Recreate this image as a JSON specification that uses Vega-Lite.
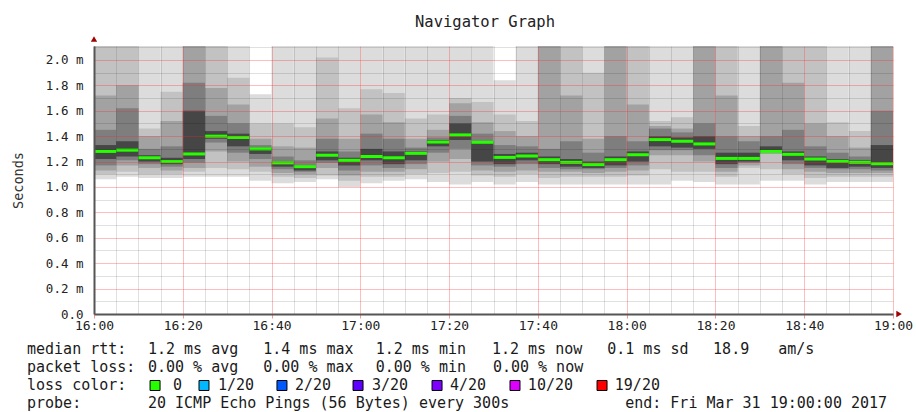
{
  "$schema": "https://vega.github.io/schema/vega-lite/v6.json",
  "width": 799,
  "height": 268,
  "padding": {"left": 11, "top": 14, "right": 0, "bottom": 6},
  "background": "white",
  "title": {"text": "Navigator Graph", "anchor": "start", "frame": "group", "font": "DejaVu Sans Mono", "fontSize": 15.5, "fontWeight": "normal", "color": "#222222", "baseline": "bottom", "offset": 1, "dx": 321, "dy": 10},
  "config": {"view": {"stroke": null}, "axis": {"labelFont": "DejaVu Sans Mono", "titleFont": "DejaVu Sans Mono"}},
  "resolve": {"scale": {"x": "independent", "y": "independent", "color": "independent"}, "axis": {"x": "independent", "y": "independent"}},
  "data": {"values": [
    {"t":"2017-03-31T16:00","t2":"2017-03-31T16:05","med":1.28,"l1":1.06,"h1":2.3,"l2":1.10,"h2":2.3,"l3":1.13,"h3":1.72,"l4":1.17,"h4":1.45,"l5":1.22,"h5":1.33},
    {"t":"2017-03-31T16:05","t2":"2017-03-31T16:10","med":1.29,"l1":1.08,"h1":2.3,"l2":1.12,"h2":2.3,"l3":1.17,"h3":1.80,"l4":1.21,"h4":1.62,"l5":1.24,"h5":1.36},
    {"t":"2017-03-31T16:10","t2":"2017-03-31T16:15","med":1.23,"l1":1.07,"h1":2.3,"l2":1.10,"h2":1.46,"l3":1.15,"h3":1.40,"l4":1.18,"h4":1.30,"l5":1.20,"h5":1.25},
    {"t":"2017-03-31T16:15","t2":"2017-03-31T16:20","med":1.20,"l1":1.07,"h1":2.3,"l2":1.10,"h2":1.75,"l3":1.13,"h3":1.52,"l4":1.16,"h4":1.32,"l5":1.18,"h5":1.23},
    {"t":"2017-03-31T16:20","t2":"2017-03-31T16:25","med":1.26,"l1":1.08,"h1":2.3,"l2":1.12,"h2":2.3,"l3":1.15,"h3":2.3,"l4":1.19,"h4":1.82,"l5":1.22,"h5":1.60},
    {"t":"2017-03-31T16:25","t2":"2017-03-31T16:30","med":1.40,"l1":1.08,"h1":2.3,"l2":1.15,"h2":2.3,"l3":1.28,"h3":1.78,"l4":1.35,"h4":1.56,"l5":1.38,"h5":1.44},
    {"t":"2017-03-31T16:30","t2":"2017-03-31T16:35","med":1.39,"l1":1.08,"h1":2.3,"l2":1.14,"h2":1.86,"l3":1.20,"h3":1.65,"l4":1.27,"h4":1.50,"l5":1.32,"h5":1.42},
    {"t":"2017-03-31T16:35","t2":"2017-03-31T16:40","med":1.30,"l1":1.05,"h1":1.73,"l2":1.12,"h2":1.50,"l3":1.16,"h3":1.38,"l4":1.22,"h4":1.33,"l5":1.26,"h5":1.31},
    {"t":"2017-03-31T16:40","t2":"2017-03-31T16:45","med":1.19,"l1":1.03,"h1":2.3,"l2":1.08,"h2":1.50,"l3":1.11,"h3":1.32,"l4":1.14,"h4":1.24,"l5":1.16,"h5":1.20},
    {"t":"2017-03-31T16:45","t2":"2017-03-31T16:50","med":1.16,"l1":1.04,"h1":2.3,"l2":1.07,"h2":1.47,"l3":1.10,"h3":1.31,"l4":1.12,"h4":1.21,"l5":1.13,"h5":1.17},
    {"t":"2017-03-31T16:50","t2":"2017-03-31T16:55","med":1.25,"l1":1.06,"h1":2.3,"l2":1.09,"h2":2.02,"l3":1.15,"h3":1.54,"l4":1.19,"h4":1.38,"l5":1.21,"h5":1.28},
    {"t":"2017-03-31T16:55","t2":"2017-03-31T17:00","med":1.21,"l1":1.00,"h1":2.3,"l2":1.05,"h2":1.62,"l3":1.09,"h3":1.38,"l4":1.13,"h4":1.28,"l5":1.17,"h5":1.23},
    {"t":"2017-03-31T17:00","t2":"2017-03-31T17:05","med":1.24,"l1":1.03,"h1":2.3,"l2":1.08,"h2":1.77,"l3":1.12,"h3":1.57,"l4":1.17,"h4":1.42,"l5":1.21,"h5":1.30},
    {"t":"2017-03-31T17:05","t2":"2017-03-31T17:10","med":1.23,"l1":1.05,"h1":2.3,"l2":1.08,"h2":1.74,"l3":1.12,"h3":1.51,"l4":1.15,"h4":1.38,"l5":1.18,"h5":1.28},
    {"t":"2017-03-31T17:10","t2":"2017-03-31T17:15","med":1.265,"l1":1.06,"h1":2.3,"l2":1.10,"h2":1.54,"l3":1.14,"h3":1.38,"l4":1.18,"h4":1.31,"l5":1.21,"h5":1.28},
    {"t":"2017-03-31T17:15","t2":"2017-03-31T17:20","med":1.354,"l1":1.04,"h1":2.3,"l2":1.11,"h2":1.57,"l3":1.20,"h3":1.45,"l4":1.27,"h4":1.39,"l5":1.32,"h5":1.37},
    {"t":"2017-03-31T17:20","t2":"2017-03-31T17:25","med":1.41,"l1":1.02,"h1":2.3,"l2":1.12,"h2":1.70,"l3":1.22,"h3":1.66,"l4":1.30,"h4":1.56,"l5":1.37,"h5":1.50},
    {"t":"2017-03-31T17:25","t2":"2017-03-31T17:30","med":1.352,"l1":1.04,"h1":2.3,"l2":1.09,"h2":1.67,"l3":1.13,"h3":1.51,"l4":1.17,"h4":1.42,"l5":1.20,"h5":1.36},
    {"t":"2017-03-31T17:30","t2":"2017-03-31T17:35","med":1.233,"l1":1.02,"h1":1.84,"l2":1.08,"h2":1.57,"l3":1.12,"h3":1.44,"l4":1.16,"h4":1.33,"l5":1.18,"h5":1.26},
    {"t":"2017-03-31T17:35","t2":"2017-03-31T17:40","med":1.244,"l1":1.04,"h1":2.3,"l2":1.10,"h2":1.52,"l3":1.13,"h3":1.40,"l4":1.18,"h4":1.32,"l5":1.21,"h5":1.27},
    {"t":"2017-03-31T17:40","t2":"2017-03-31T17:45","med":1.215,"l1":1.02,"h1":2.3,"l2":1.07,"h2":2.3,"l3":1.12,"h3":2.3,"l4":1.15,"h4":1.30,"l5":1.18,"h5":1.24},
    {"t":"2017-03-31T17:45","t2":"2017-03-31T17:50","med":1.194,"l1":1.02,"h1":2.3,"l2":1.08,"h2":2.3,"l3":1.12,"h3":1.72,"l4":1.14,"h4":1.36,"l5":1.16,"h5":1.22},
    {"t":"2017-03-31T17:50","t2":"2017-03-31T17:55","med":1.176,"l1":1.02,"h1":2.3,"l2":1.08,"h2":1.90,"l3":1.11,"h3":1.38,"l4":1.14,"h4":1.27,"l5":1.15,"h5":1.20},
    {"t":"2017-03-31T17:55","t2":"2017-03-31T18:00","med":1.215,"l1":1.02,"h1":2.3,"l2":1.08,"h2":2.3,"l3":1.12,"h3":2.3,"l4":1.15,"h4":1.40,"l5":1.17,"h5":1.24},
    {"t":"2017-03-31T18:00","t2":"2017-03-31T18:05","med":1.254,"l1":1.02,"h1":2.3,"l2":1.09,"h2":2.3,"l3":1.13,"h3":1.65,"l4":1.17,"h4":1.36,"l5":1.20,"h5":1.28},
    {"t":"2017-03-31T18:05","t2":"2017-03-31T18:10","med":1.373,"l1":1.02,"h1":2.3,"l2":1.14,"h2":1.52,"l3":1.25,"h3":1.48,"l4":1.29,"h4":1.46,"l5":1.32,"h5":1.40},
    {"t":"2017-03-31T18:10","t2":"2017-03-31T18:15","med":1.36,"l1":1.05,"h1":2.3,"l2":1.12,"h2":1.55,"l3":1.25,"h3":1.46,"l4":1.29,"h4":1.43,"l5":1.31,"h5":1.39},
    {"t":"2017-03-31T18:15","t2":"2017-03-31T18:20","med":1.339,"l1":1.04,"h1":2.3,"l2":1.12,"h2":2.3,"l3":1.20,"h3":2.3,"l4":1.25,"h4":1.50,"l5":1.30,"h5":1.40},
    {"t":"2017-03-31T18:20","t2":"2017-03-31T18:25","med":1.225,"l1":1.02,"h1":2.3,"l2":1.08,"h2":2.3,"l3":1.12,"h3":1.72,"l4":1.15,"h4":1.40,"l5":1.18,"h5":1.27},
    {"t":"2017-03-31T18:25","t2":"2017-03-31T18:30","med":1.225,"l1":1.02,"h1":2.3,"l2":1.15,"h2":1.48,"l3":1.17,"h3":1.40,"l4":1.19,"h4":1.36,"l5":1.20,"h5":1.27},
    {"t":"2017-03-31T18:30","t2":"2017-03-31T18:35","med":1.28,"l1":1.05,"h1":2.3,"l2":1.14,"h2":2.3,"l3":1.26,"h3":2.3,"l4":1.27,"h4":1.40,"l5":1.28,"h5":1.32},
    {"t":"2017-03-31T18:35","t2":"2017-03-31T18:40","med":1.257,"l1":1.05,"h1":2.3,"l2":1.10,"h2":2.3,"l3":1.14,"h3":1.82,"l4":1.18,"h4":1.45,"l5":1.21,"h5":1.28},
    {"t":"2017-03-31T18:40","t2":"2017-03-31T18:45","med":1.22,"l1":1.02,"h1":2.3,"l2":1.07,"h2":2.3,"l3":1.12,"h3":1.50,"l4":1.15,"h4":1.32,"l5":1.17,"h5":1.24},
    {"t":"2017-03-31T18:45","t2":"2017-03-31T18:50","med":1.202,"l1":1.04,"h1":2.3,"l2":1.08,"h2":1.51,"l3":1.11,"h3":1.40,"l4":1.14,"h4":1.27,"l5":1.15,"h5":1.22},
    {"t":"2017-03-31T18:50","t2":"2017-03-31T18:55","med":1.194,"l1":1.04,"h1":2.3,"l2":1.08,"h2":1.44,"l3":1.11,"h3":1.31,"l4":1.14,"h4":1.24,"l5":1.16,"h5":1.21},
    {"t":"2017-03-31T18:55","t2":"2017-03-31T19:00","med":1.183,"l1":1.04,"h1":2.3,"l2":1.08,"h2":2.3,"l3":1.11,"h3":2.3,"l4":1.13,"h4":1.60,"l5":1.15,"h5":1.33}
  ]},
  "layer": [
    {
      "mark": {"type": "rect", "color": "#dcdcdc"},
      "encoding": {
        "x": {"field": "t", "type": "temporal",
          "scale": {"nice": false},
          "axis": {"title": null, "tickCount": 36, "orient": "bottom",
            "labelExpr": "minutes(datum.value) % 20 === 0 ? timeFormat(datum.value, '%H:%M') : ''",
            "labelFontSize": 13, "labelColor": "#222222", "labelPadding": 1, "labelOverlap": false, "labelFlush": false,
            "grid": true, "gridWidth": 1, "gridOpacity": 1,
            "gridColor": {"condition": {"test": "minutes(datum.value) % 20 === 0", "value": "rgba(255,40,40,0.3)"}, "value": "rgba(0,0,0,0.12)"},
            "ticks": true, "tickSize": 4, "tickWidth": 1,
            "tickColor": {"condition": {"test": "minutes(datum.value) % 20 === 0", "value": "rgba(255,40,40,0.5)"}, "value": "rgba(0,0,0,0)"},
            "domainColor": "#555555", "domainWidth": 2, "zindex": 1}},
        "x2": {"field": "t2"},
        "y": {"field": "l1", "type": "quantitative",
          "scale": {"domain": [0, 2.11], "nice": false, "zero": false, "clamp": true},
          "axis": {"title": "Seconds", "orient": "left", "titleFontSize": 13.5, "titleFontWeight": "normal", "titleColor": "#333333",
            "titleX": -76, "titleY": 134, "titleAngle": -90, "titleAlign": "center", "titleBaseline": "middle",
            "values": [0, 0.1, 0.2, 0.3, 0.4, 0.5, 0.6, 0.7, 0.8, 0.9, 1.0, 1.1, 1.2, 1.3, 1.4, 1.5, 1.6, 1.7, 1.8, 1.9, 2.0, 2.1],
            "labelExpr": "round(datum.value * 10) % 2 === 0 ? (datum.value === 0 ? '0.0' : format(datum.value, '.1f') + ' m') : ''",
            "labelFontSize": 12.5, "labelColor": "#222222", "labelPadding": 11, "ticks": false,
            "grid": true, "gridWidth": 1, "gridOpacity": 1,
            "gridColor": {"condition": {"test": "round(datum.value * 10) % 2 === 0", "value": "rgba(255,40,40,0.3)"}, "value": "rgba(0,0,0,0.12)"},
            "domainColor": "#555555", "domainWidth": 2, "zindex": 1}},
        "y2": {"field": "h1"}
      }
    },
    {"mark": {"type": "rect", "color": "#c2c2c2"},
     "encoding": {
       "x": {"field": "t", "type": "temporal", "axis": null, "scale": {"nice": false}},
       "x2": {"field": "t2"},
       "y": {"field": "l2", "type": "quantitative", "axis": null, "scale": {"domain": [0, 2.11], "nice": false, "zero": false, "clamp": true}},
       "y2": {"field": "h2"}}},
    {"mark": {"type": "rect", "color": "#a2a2a2"},
     "encoding": {
       "x": {"field": "t", "type": "temporal", "axis": null, "scale": {"nice": false}},
       "x2": {"field": "t2"},
       "y": {"field": "l3", "type": "quantitative", "axis": null, "scale": {"domain": [0, 2.11], "nice": false, "zero": false, "clamp": true}},
       "y2": {"field": "h3"}}},
    {"mark": {"type": "rect", "color": "#7e7e7e"},
     "encoding": {
       "x": {"field": "t", "type": "temporal", "axis": null, "scale": {"nice": false}},
       "x2": {"field": "t2"},
       "y": {"field": "l4", "type": "quantitative", "axis": null, "scale": {"domain": [0, 2.11], "nice": false, "zero": false, "clamp": true}},
       "y2": {"field": "h4"}}},
    {"mark": {"type": "rect", "color": "#464646"},
     "encoding": {
       "x": {"field": "t", "type": "temporal", "axis": null, "scale": {"nice": false}},
       "x2": {"field": "t2"},
       "y": {"field": "l5", "type": "quantitative", "axis": null, "scale": {"domain": [0, 2.11], "nice": false, "zero": false, "clamp": true}},
       "y2": {"field": "h5"}}},
    {"mark": {"type": "rule", "color": "#26ff00", "strokeWidth": 3},
     "encoding": {
       "x": {"field": "t", "type": "temporal", "axis": null, "scale": {"nice": false}},
       "x2": {"field": "t2"},
       "y": {"field": "med", "type": "quantitative", "axis": null, "scale": {"domain": [0, 2.11], "nice": false, "zero": false}}}},
    {
      "data": {"values": [
        {"ln": 1, "c": 0, "s": "median rtt:"},
        {"ln": 1, "c": 12.8, "s": "1.2 ms avg"},
        {"ln": 1, "c": 25.0, "s": "1.4 ms max"},
        {"ln": 1, "c": 36.9, "s": "1.2 ms min"},
        {"ln": 1, "c": 49.2, "s": "1.2 ms now"},
        {"ln": 1, "c": 61.4, "s": "0.1 ms sd"},
        {"ln": 1, "c": 72.6, "s": "18.9"},
        {"ln": 1, "c": 79.5, "s": "am/s"},
        {"ln": 2, "c": 0, "s": "packet loss:"},
        {"ln": 2, "c": 12.8, "s": "0.00 % avg"},
        {"ln": 2, "c": 25.0, "s": "0.00 % max"},
        {"ln": 2, "c": 36.9, "s": "0.00 % min"},
        {"ln": 2, "c": 49.3, "s": "0.00 % now"},
        {"ln": 3, "c": 0, "s": "loss color:"},
        {"ln": 3, "c": 15.45, "s": "0"},
        {"ln": 3, "c": 20.2, "s": "1/20"},
        {"ln": 3, "c": 28.36, "s": "2/20"},
        {"ln": 3, "c": 36.5, "s": "3/20"},
        {"ln": 3, "c": 44.76, "s": "4/20"},
        {"ln": 3, "c": 53.0, "s": "10/20"},
        {"ln": 3, "c": 62.2, "s": "19/20"},
        {"ln": 4, "c": 0, "s": "probe:"},
        {"ln": 4, "c": 12.8, "s": "20 ICMP Echo Pings (56 Bytes) every 300s"},
        {"ln": 4, "c": 63.3, "s": "end: Fri Mar 31 19:00:00 2017"}
      ]},
      "mark": {"type": "text", "align": "left", "baseline": "alphabetic", "font": "DejaVu Sans Mono", "fontSize": 15, "color": "#1a1a1a"},
      "encoding": {
        "x": {"field": "c", "type": "quantitative", "scale": {"domain": [7.09, 91.64], "nice": false, "zero": false}, "axis": null},
        "y": {"field": "ln", "type": "quantitative", "scale": {"domain": [-16.111, -1.222], "nice": false, "zero": false, "reverse": true}, "axis": null},
        "text": {"field": "s"}
      }
    },
    {
      "data": {"values": [
        {"ln": 3, "c": 13.55, "loss": "0"},
        {"ln": 3, "c": 18.73, "loss": "1/20"},
        {"ln": 3, "c": 26.98, "loss": "2/20"},
        {"ln": 3, "c": 35.03, "loss": "3/20"},
        {"ln": 3, "c": 43.39, "loss": "4/20"},
        {"ln": 3, "c": 51.64, "loss": "10/20"},
        {"ln": 3, "c": 60.85, "loss": "19/20"}
      ]},
      "mark": {"type": "point", "shape": "square", "filled": true, "size": 100, "stroke": "#000000", "strokeWidth": 1, "opacity": 1, "yOffset": -4.5},
      "encoding": {
        "x": {"field": "c", "type": "quantitative", "scale": {"domain": [7.09, 91.64], "nice": false, "zero": false}, "axis": null},
        "y": {"field": "ln", "type": "quantitative", "scale": {"domain": [-16.111, -1.222], "nice": false, "zero": false, "reverse": true}, "axis": null},
        "color": {"field": "loss", "type": "nominal", "legend": null,
          "scale": {"domain": ["0", "1/20", "2/20", "3/20", "4/20", "10/20", "19/20"], "range": ["#26ff00", "#00b8ff", "#0059ff", "#5e00ff", "#7e00ff", "#dd00ff", "#ff0000"]}}
      }
    },
    {
      "data": {"values": [
        {"ln": -16.50, "c": 7.09, "dir": "up"},
        {"ln": -1.222, "c": 92.28, "dir": "right"}
      ]},
      "mark": {"type": "point", "filled": true, "size": 40, "color": "#a00000", "opacity": 1},
      "encoding": {
        "x": {"field": "c", "type": "quantitative", "scale": {"domain": [7.09, 91.64], "nice": false, "zero": false}, "axis": null},
        "y": {"field": "ln", "type": "quantitative", "scale": {"domain": [-16.111, -1.222], "nice": false, "zero": false, "reverse": true}, "axis": null},
        "shape": {"field": "dir", "type": "nominal", "legend": null, "scale": {"domain": ["up", "right"], "range": ["triangle-up", "triangle-right"]}}
      }
    }
  ]
}
